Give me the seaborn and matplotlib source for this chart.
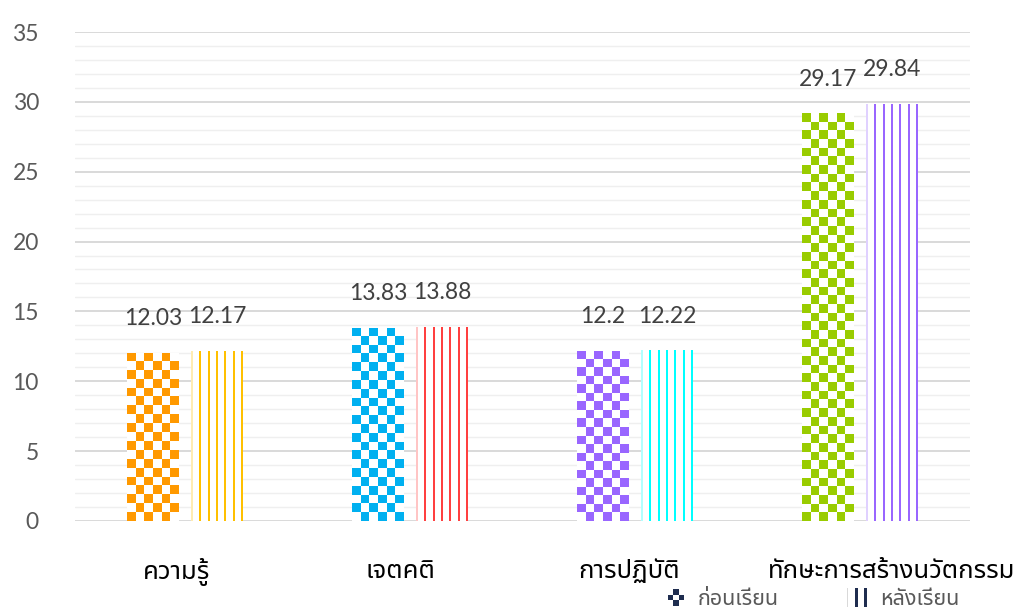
import numpy as np
import pandas as pd
import matplotlib
matplotlib.use('Agg')
import matplotlib.pyplot as plt
import seaborn as sns
from matplotlib.colors import to_rgba
from matplotlib.patches import Rectangle
from matplotlib.legend_handler import HandlerBase
from matplotlib.ticker import MultipleLocator
from matplotlib.transforms import ScaledTranslation

# data
categories = ['ความรู้', 'เจตคติ', 'การปฏิบัติ', 'ทักษะการสร้างนวัตกรรม']
groups = ['ก่อนเรียน', 'หลังเรียน']
before = [12.03, 13.83, 12.2, 29.17]
after = [12.17, 13.88, 12.22, 29.84]
before_colors = ['#FF9900', '#00B0F0', '#9966FF', '#99CC00']
after_colors = ['#FFC000', '#FF4040', '#00FFFF', '#9966FF']

df = pd.DataFrame({
    'category': categories * 2,
    'group': [groups[0]] * len(categories) + [groups[1]] * len(categories),
    'score': before + after,
})

sns.set_style('white')
plt.rcParams['font.family'] = ['Lato', 'Noto Sans Thai', 'Noto Sans Thai UI', 'Loma', 'Garuda',
                               'Tlwg Typo', 'Norasi', 'Tahoma', 'DejaVu Sans', 'Noto Sans']

fig = plt.figure(figsize=(10.14, 6.1), dpi=100)
ax = fig.add_axes([0.074, 0.146, 0.883, 0.8015])

sns.barplot(data=df, x='category', y='score', hue='group', order=categories, hue_order=groups,
            palette=['white', 'white'], width=0.57, gap=0.19, errorbar=None, linewidth=0,
            legend=False, ax=ax)

ax.set_xlim(-0.49, 3.49)
ax.set_ylim(0, 35)
fig.canvas.draw()

# pixel scale, used to size the fill patterns
bbox = ax.get_window_extent()
px_x = bbox.width / (ax.get_xlim()[1] - ax.get_xlim()[0])
px_y = bbox.height / (ax.get_ylim()[1] - ax.get_ylim()[0])


def checker_fill(bar, color):
    x, w, h = bar.get_x(), bar.get_width(), bar.get_height()
    cols = 6
    cell = w * px_x / cols
    rows = max(1, int(round(h * px_y / cell)))
    img = np.ones((rows, cols, 4))
    c = np.array(to_rgba(color))
    for i in range(rows):
        for j in range(cols):
            if (i + j) % 2 == (rows - 1) % 2:
                img[i, j] = c
    im = ax.imshow(img, extent=[x, x + w, 0, h], aspect='auto', origin='lower',
                   interpolation='nearest', zorder=2)
    im.set_clip_path(bar)


def stripe_fill(bar, color):
    x, w, h = bar.get_x(), bar.get_width(), bar.get_height()
    cols = 25
    img = np.ones((1, cols, 4))
    c = np.array(to_rgba(color))
    for j in range(4, cols, 4):
        img[0, j] = c
    img[0, 0, :3] = 1 - 0.3 * (1 - c[:3])
    im = ax.imshow(img, extent=[x, x + w, 0, h], aspect='auto', origin='lower',
                   interpolation='nearest', zorder=2)
    im.set_clip_path(bar)


for bar, col in zip(ax.containers[0], before_colors):
    checker_fill(bar, col)
for bar, col in zip(ax.containers[1], after_colors):
    stripe_fill(bar, col)

ax.set_xlim(-0.49, 3.49)
ax.set_ylim(0, 35)

for cont, vals in zip(ax.containers, [before, after]):
    ax.bar_label(cont, labels=[f'{v:g}' for v in vals], padding=17, fontsize=16.5, color='#404040')

ax.yaxis.set_major_locator(MultipleLocator(5))
ax.yaxis.set_minor_locator(MultipleLocator(1))
ax.set_axisbelow(True)
ax.grid(which='major', axis='y', color='#D9D9D9', linewidth=1.4)
ax.grid(which='minor', axis='y', color='#EFEFEF', linewidth=1.0)
ax.grid(which='major', axis='x', visible=False)
for s in ax.spines.values():
    s.set_visible(False)

ax.tick_params(axis='y', which='both', length=0, pad=26, labelsize=16.5, labelcolor='#595959')
ax.tick_params(axis='x', length=0, pad=27, labelsize=18.5, labelcolor='#000000')
ax.set_xlabel('')
ax.set_ylabel('')

# small horizontal nudges seen in the reference's category labels
for lbl, dx in zip(ax.get_xticklabels(), [-9, -10, -6, 31]):
    lbl.set_transform(lbl.get_transform() + ScaledTranslation(dx / 100, 0, fig.dpi_scale_trans))

navy = '#1F2D4F'


class CheckerHandler(HandlerBase):
    def create_artists(self, legend, orig_handle, xdescent, ydescent, width, height, fontsize, trans):
        side = height * 1.1
        s = side / 3
        x0 = xdescent + (width - side) / 2
        y0 = -ydescent + (height - side) / 2
        arts = []
        for i in range(3):
            for j in range(3):
                if (i + j) % 2 == 1:
                    arts.append(Rectangle((x0 + j * s, y0 + i * s), s, s, facecolor=navy,
                                          edgecolor='none', transform=trans))
        return arts


class StripeHandler(HandlerBase):
    def create_artists(self, legend, orig_handle, xdescent, ydescent, width, height, fontsize, trans):
        arts = [Rectangle((xdescent + width * 0.05, -ydescent - height * 0.1), width * 0.05, height * 1.2,
                          facecolor='#D9D9D9', edgecolor='none', transform=trans)]
        for k in range(2):
            arts.append(Rectangle((xdescent + width * (0.38 + 0.35 * k), -ydescent - height * 0.1),
                                  width * 0.1, height * 1.2, facecolor=navy, edgecolor='none',
                                  transform=trans))
        return arts


h1 = Rectangle((0, 0), 1, 1)
h2 = Rectangle((0, 0), 1, 1)
fig.legend([h1, h2], groups, handler_map={h1: CheckerHandler(), h2: StripeHandler()},
           loc='center', bbox_to_anchor=(0.80, 0.018), ncol=2, frameon=False, fontsize=15.5,
           labelcolor='#595959', columnspacing=3.1, handlelength=1.2, handletextpad=0.4)

fig.savefig('out.png', dpi=100)
